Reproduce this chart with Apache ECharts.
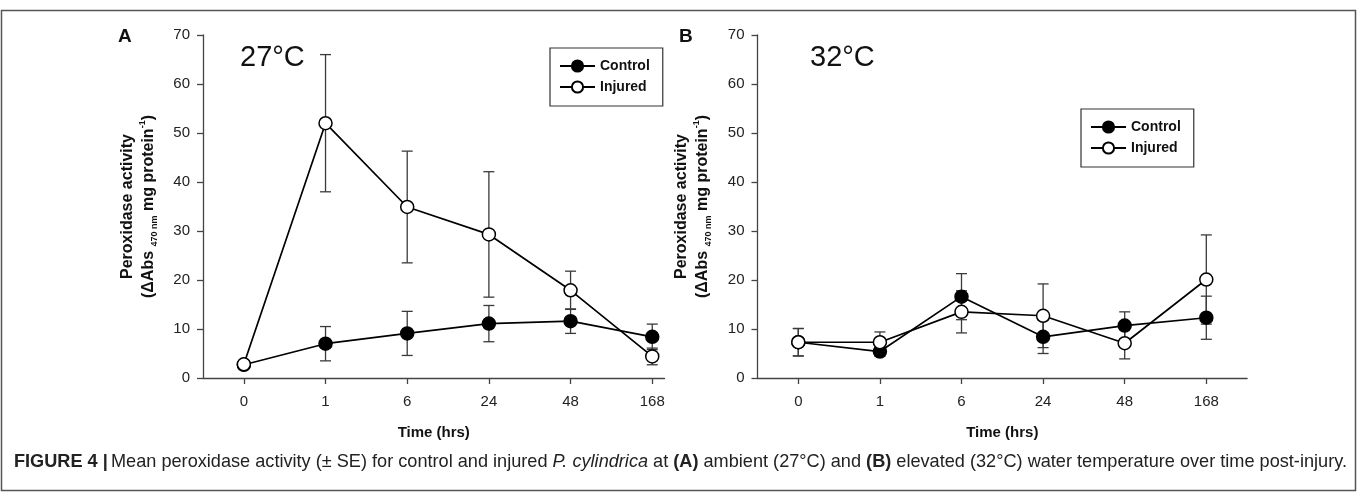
<!DOCTYPE html>
<html>
<head>
<meta charset="utf-8">
<script src="https://cdn.jsdelivr.net/npm/echarts@6/dist/echarts.min.js"></script>
<style>
html,body{margin:0;padding:0;background:#fff;}
#chart{width:1358px;height:503px;}
</style>
</head>
<body>
<div id="chart"></div>
<script>
// ---- data ----
var timeLabels = ['0', '1', '6', '24', '48', '168'];
var yTicks = [0, 10, 20, 30, 40, 50, 60, 70];

// Panel A (27 °C)
var controlA = [2.7, 7.0, 9.1, 11.1, 11.6, 8.4];
var controlA_se = [0.5, 3.5, 4.5, 3.7, 2.5, 2.6];
var injuredA = [2.8, 52.0, 34.9, 29.3, 17.9, 4.4];
var injuredA_se = [0.6, 14.0, 11.4, 12.8, 3.9, 1.7];

// Panel B (32 °C)
var controlB = [7.3, 5.4, 16.6, 8.4, 10.7, 12.3];
var controlB_se = [2.8, 0.9, 4.7, 3.4, 2.8, 4.4];
var injuredB = [7.3, 7.3, 13.5, 12.7, 7.1, 20.1];
var injuredB_se = [2.8, 2.1, 4.3, 6.5, 3.2, 9.1];

var FONT = '"Liberation Sans", Arial, sans-serif';

function pts(vals) { return vals.map(function (v, i) { return [i + 1, v]; }); }
function errs(vals, se) { return vals.map(function (v, i) { return [i + 1, v - se[i], v + se[i]]; }); }

function errorRender(params, api) {
  var x = api.value(0);
  var lo = api.coord([x, api.value(1)]);
  var hi = api.coord([x, api.value(2)]);
  var hw = 5.5;
  var st = { stroke: '#3a3a3a', lineWidth: 1.3, fill: null };
  return {
    type: 'group',
    children: [
      { type: 'line', shape: { x1: lo[0], y1: lo[1], x2: hi[0], y2: hi[1] }, style: st },
      { type: 'line', shape: { x1: lo[0] - hw, y1: lo[1], x2: lo[0] + hw, y2: lo[1] }, style: st },
      { type: 'line', shape: { x1: hi[0] - hw, y1: hi[1], x2: hi[0] + hw, y2: hi[1] }, style: st }
    ]
  };
}

var tickVals = timeLabels.map(function (_, i) { return i + 1; });

function xAxis(gi, max) {
  return {
    type: 'value', gridIndex: gi, min: 0.5, max: max,
    name: 'Time (hrs)', nameLocation: 'middle', nameGap: 47,
    nameTextStyle: { fontFamily: FONT, fontWeight: 'bold', fontSize: 15, color: '#111' },
    axisLine: { show: true, lineStyle: { color: '#444', width: 1.3 } },
    axisTick: { show: true, customValues: tickVals, length: 6, inside: false, lineStyle: { color: '#444', width: 1.3 } },
    axisLabel: {
      customValues: tickVals, margin: 16, fontFamily: FONT, fontSize: 15, color: '#222',
      formatter: function (v) { return timeLabels[Math.round(v) - 1]; }
    },
    splitLine: { show: false }
  };
}

var yNameRich = {
  b: { fontFamily: FONT, fontWeight: 'bold', fontSize: 16, color: '#111', lineHeight: 21 },
  sub: { fontFamily: FONT, fontWeight: 'bold', fontSize: 9, color: '#111', lineHeight: 11, verticalAlign: 'bottom' },
  sup: { fontFamily: FONT, fontWeight: 'bold', fontSize: 9, color: '#111', lineHeight: 11, verticalAlign: 'top' }
};

function yAxis(gi) {
  return {
    type: 'value', gridIndex: gi, min: 0, max: 70, interval: 10,
    name: '{b|Peroxidase activity}\n{b|(ΔAbs }{sub|470 nm}{b| mg protein}{sup|-1}{b|)}',
    nameLocation: 'middle', nameGap: 44,
    nameTextStyle: { rich: yNameRich, align: 'center' },
    axisLine: { show: true, lineStyle: { color: '#444', width: 1.3 } },
    axisTick: { show: true, length: 6, lineStyle: { color: '#444', width: 1.3 } },
    axisLabel: { margin: 13, fontFamily: FONT, fontSize: 15, color: '#222',
      formatter: function (v) { return yTicks.indexOf(v) >= 0 ? String(v) : ''; } },
    splitLine: { show: false }
  };
}

function lineSeries(name, gi, vals, filled, z) {
  return {
    type: 'line', name: name, xAxisIndex: gi, yAxisIndex: gi, data: pts(vals),
    symbol: 'circle', symbolSize: 13, z: z,
    lineStyle: { color: '#000', width: 1.7 },
    itemStyle: { color: filled ? '#000' : '#fff', borderColor: '#000', borderWidth: 1.5 },
    emphasis: { disabled: true }, animation: false
  };
}

function errSeries(gi, vals, se) {
  return {
    type: 'custom', xAxisIndex: gi, yAxisIndex: gi, data: errs(vals, se),
    renderItem: errorRender, z: 1, silent: true, animation: false,
    encode: { x: 0, y: [1, 2] }
  };
}

function legend(left, top) {
  return {
    data: ['Control', 'Injured'], orient: 'vertical', left: left, top: top,
    padding: [11, 13, 12, 9], itemGap: 7, itemWidth: 35, itemHeight: 14,
    borderColor: '#333', borderWidth: 1.2, selectedMode: false,
    textStyle: { fontFamily: FONT, fontWeight: 'bold', fontSize: 14, color: '#111' }
  };
}

var chart = echarts.init(document.getElementById('chart'), null, { renderer: 'canvas' });
chart.setOption({
  backgroundColor: '#fff',
  animation: false,
  grid: [
    { left: 203, top: 35, width: 461.5, height: 343 },
    { left: 757.5, top: 35, width: 489.6, height: 343 }
  ],
  xAxis: [xAxis(0, 6.15), xAxis(1, 6.5)],
  yAxis: [yAxis(0), yAxis(1)],
  legend: [legend(550, 48), legend(1081, 109)],
  series: [
    errSeries(0, controlA, controlA_se),
    errSeries(0, injuredA, injuredA_se),
    lineSeries('Control', 0, controlA, true, 2),
    lineSeries('Injured', 0, injuredA, false, 3),
    errSeries(1, controlB, controlB_se),
    errSeries(1, injuredB, injuredB_se),
    lineSeries('Control', 1, controlB, true, 2),
    lineSeries('Injured', 1, injuredB, false, 3)
  ],
  graphic: [
    { type: 'rect', shape: { x: 1.5, y: 10.5, width: 1354, height: 480 },
      style: { fill: null, stroke: '#555', lineWidth: 1.5 }, silent: true },
    { type: 'text', left: 118, top: 27, style: { text: 'A', font: 'bold 19px ' + FONT, fill: '#111' } },
    { type: 'text', left: 679, top: 27, style: { text: 'B', font: 'bold 19px ' + FONT, fill: '#111' } },
    { type: 'text', left: 240, top: 43, style: { text: '27°C', font: '29px ' + FONT, fill: '#111' } },
    { type: 'text', left: 810, top: 43, style: { text: '32°C', font: '29px ' + FONT, fill: '#111' } },
    { type: 'text', x: 14, y: 452, scaleX: 0.955,
      style: {
        text: '{b|FIGURE 4 |} {r|Mean peroxidase activity (± SE) for control and injured }{i|P. cylindrica}{r| at }{b|(A)}{r| ambient (27°C) and }{b|(B)}{r| elevated (32°C) water temperature over time post-injury.}',
        rich: {
          b: { fontFamily: FONT, fontWeight: 'bold', fontSize: 19, fill: '#222' },
          r: { fontFamily: FONT, fontSize: 19, fill: '#222' },
          i: { fontFamily: FONT, fontStyle: 'italic', fontSize: 19, fill: '#222' }
        }
      } }
  ]
});
</script>
</body>
</html>
